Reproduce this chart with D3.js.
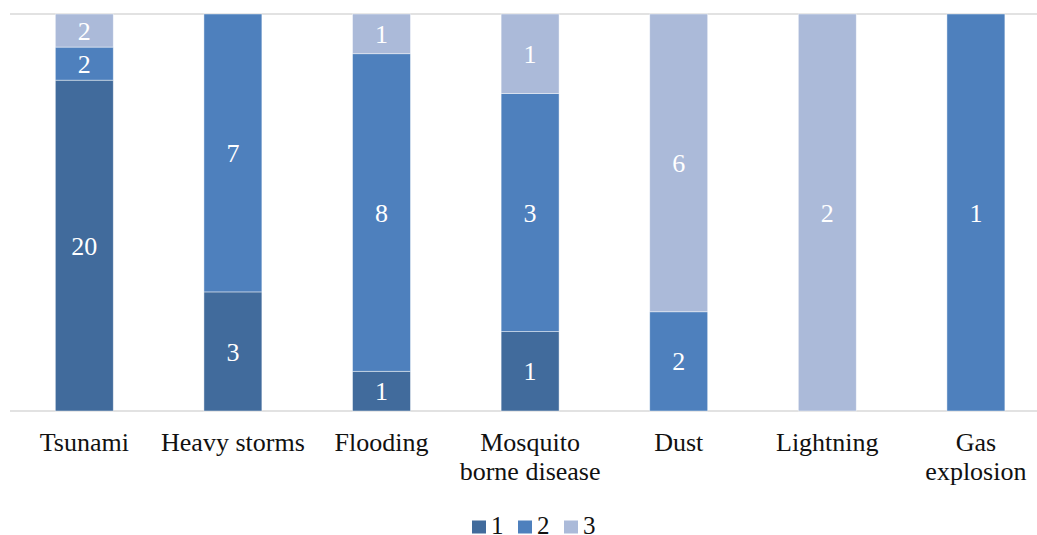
<!DOCTYPE html>
<html>
<head>
<meta charset="utf-8">
<script src="https://cdn.jsdelivr.net/npm/d3@7/dist/d3.min.js"></script>
<style>
  html, body { margin: 0; padding: 0; background: #fff; }
  svg, svg text { font-family: "Liberation Serif", "Times New Roman", serif; }
  svg { display: block; }
</style>
</head>
<body>
<svg id="chart" width="1037" height="535"></svg>
<script>
// Hazard categories and the count for each severity group (1, 2, 3)
const categories = ["Tsunami", "Heavy storms", "Flooding", "Mosquito borne disease", "Dust", "Lightning", "Gas explosion"];
const seriesNames = ["1", "2", "3"];
const series1 = [20, 3, 1, 1, 0, 0, 0];
const series2 = [2, 7, 8, 3, 2, 0, 1];
const series3 = [2, 0, 1, 1, 6, 2, 0];
const colors = ["#416b9c", "#4e80bd", "#abbad9"];

const FONT = "'Liberation Serif', 'Times New Roman', serif";
const svg = d3.select("#chart");
const W = 1037, H = 535;
const plotLeft = 10, plotTop = 14, plotBottom = 411;
const step = 148.6;

// Build rows for the stack, normalised to 100% per category
const rows = categories.map((c, i) => {
  const vals = [series1[i], series2[i], series3[i]];
  const total = d3.sum(vals);
  const r = { category: c, total: total };
  seriesNames.forEach((s, k) => { r[s] = vals[k] / total; r["raw" + s] = vals[k]; });
  return r;
});

const stacked = d3.stack().keys(seriesNames)(rows);

const x = d3.scaleBand()
  .domain(categories)
  .range([plotLeft, plotLeft + step * categories.length])
  .paddingInner(0.61)
  .paddingOuter(0.305);

const y = d3.scaleLinear().domain([0, 1]).range([plotBottom, plotTop]);

// Gridlines at 0% and 100%
svg.append("g")
  .selectAll("line")
  .data([0, 1])
  .join("line")
  .attr("x1", plotLeft).attr("x2", W)
  .attr("y1", d => y(d)).attr("y2", d => y(d))
  .attr("stroke", "#d9d9d9")
  .attr("stroke-width", 1.5);

// Stacked segments
const layer = svg.append("g")
  .selectAll("g")
  .data(stacked)
  .join("g")
  .attr("fill", (d, i) => colors[i]);

layer.selectAll("rect")
  .data(d => d.map(p => ({ p, key: d.key })))
  .join("rect")
  .attr("x", d => x(d.p.data.category))
  .attr("width", x.bandwidth())
  .attr("y", d => y(d.p[1]))
  .attr("height", d => y(d.p[0]) - y(d.p[1]))
  .attr("stroke", "rgba(255,255,255,0.55)")
  .attr("stroke-width", d => (d.p[1] - d.p[0]) > 0 ? 0.8 : 0);

// Value labels centred in each segment
const labels = svg.append("g");
stacked.forEach(s => {
  s.forEach(p => {
    const v = p.data["raw" + s.key];
    if (!v) return;
    labels.append("text")
      .attr("x", x(p.data.category) + x.bandwidth() / 2)
      .attr("y", (y(p[0]) + y(p[1])) / 2)
      .attr("dy", "0.35em")
      .attr("text-anchor", "middle")
      .attr("fill", "#ffffff")
      .attr("font-family", FONT)
      .attr("font-size", 26)
      .text(v);
  });
});

// Category labels, wrapped to the space available under each band
const catG = svg.append("g");
categories.forEach(c => {
  const cx = x(c) + x.bandwidth() / 2;
  const maxW = Math.min(step, 2 * (W - cx) - 4);
  const t = catG.append("text")
    .attr("x", cx)
    .attr("y", 451)
    .attr("text-anchor", "middle")
    .attr("fill", "#111")
    .attr("font-family", FONT)
    .attr("font-size", 26);
  const words = c.split(" ");
  let line = [];
  let tspan = t.append("tspan").attr("x", cx).attr("dy", 0);
  words.forEach(w => {
    line.push(w);
    tspan.text(line.join(" "));
    if (tspan.node().getComputedTextLength() > maxW && line.length > 1) {
      line.pop();
      tspan.text(line.join(" "));
      line = [w];
      tspan = t.append("tspan").attr("x", cx).attr("dy", 29).text(w);
    }
  });
});

// Legend
const legend = svg.append("g").attr("transform", "translate(472,520.5)");
seriesNames.forEach((s, i) => {
  const g = legend.append("g").attr("transform", `translate(${i * 46},0)`);
  g.append("rect").attr("width", 14).attr("height", 13).attr("fill", colors[i]);
  g.append("text").attr("x", 19).attr("y", 13.5)
    .attr("font-family", FONT)
    .attr("font-size", 25).attr("fill", "#111").text(s);
});
</script>
</body>
</html>
